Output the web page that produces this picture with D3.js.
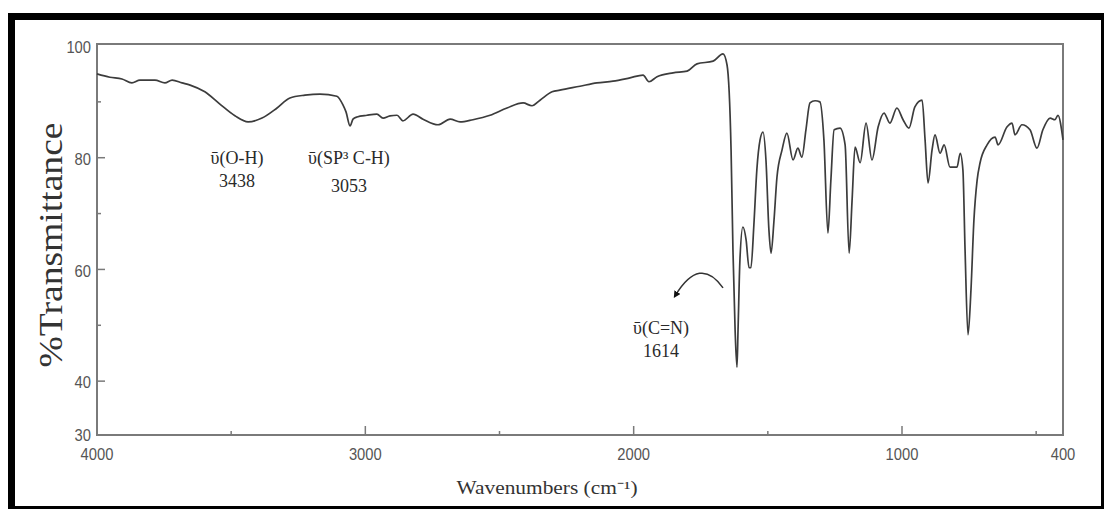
<!DOCTYPE html>
<html>
<head>
<meta charset="utf-8">
<script src="https://cdn.jsdelivr.net/npm/d3@7"></script>
<style>
  body { margin: 0; background: #fff; }
  svg { display: block; }
</style>
</head>
<body>
<svg width="1104" height="509"></svg>
<script>
// IR spectrum
var wavenumbers = [4000,3952,3907,3870,3840,3784,3747,3720,3683,3653,3598,3542,3486,3437,3385,3329,3281,3225,3169,3106,
  3083,3072,3057,3046,3031,2994,2957,2934,2908,2882,2860,2822,2785,2729,2684,2647,2599,2535,2472,2412,
  2379,2349,2304,2275,2200,2137,2077,2014,1965,1943,1913,1853,1801,1764,1704,1667,1652,1637,1630,1622,
  1615,1611,1604,1593,1581,1570,1563,1552,1541,1529,1518,1507,1496,1488,1477,1466,1447,1429,1406,1388,
  1373,1358,1343,1324,1306,1291,1276,1265,1253,1231,1212,1197,1186,1175,1156,1134,1112,1089,1067,1045,
  1019,996,974,952,925,914,903,888,877,858,843,821,795,783,773,765,754,743,732,720,
  709,683,653,642,609,590,579,553,523,497,475,448,430,419,400];
var transmittance = [95.0,94.4,94.1,93.4,93.9,93.9,93.4,93.9,93.4,93.0,91.8,89.6,87.5,86.4,87.1,88.9,90.7,91.2,91.4,91.0,
  89.4,88.2,85.7,86.9,87.3,87.6,87.8,87.1,87.5,87.6,86.6,87.8,86.9,85.9,86.9,86.4,86.8,87.6,88.9,89.8,
  89.3,90.3,91.8,92.1,92.8,93.4,93.7,94.3,94.8,93.6,94.5,95.2,95.5,96.8,97.3,98.6,96.6,81.4,63.5,49.2,
  42.5,49.2,61.7,67.6,65.3,60.3,60.3,68.0,77.8,83.2,84.6,79.6,67.1,62.9,68.8,76.5,81.4,84.4,79.6,81.7,
  80.1,85.0,89.8,90.2,90.0,83.2,66.5,76.0,85.0,85.3,82.3,62.9,72.4,81.9,79.1,86.2,79.6,85.5,88.0,86.2,
  88.9,86.8,85.3,89.1,90.3,83.2,75.5,81.4,84.1,80.8,82.3,78.3,78.3,80.8,77.8,63.5,48.3,56.3,68.8,76.0,
  79.1,82.3,83.7,82.3,85.5,86.2,84.1,85.9,85.0,81.7,85.0,87.1,86.8,87.6,83.2];

var xTickValues = [4000, 3000, 2000, 1000, 400];
var xMajorMarks = [3000, 2000, 1000];
var xMinorMarks = [3500, 2500, 1500, 500];
var yTickValues = [100, 80, 60, 40, 30];
var yMajorMarks = [80, 60, 40];
var yMinorMarks = [90, 70, 50];

var annotations = [
  { lines: ['ῡ(O-H)', '3438'], wn: 3478, t: [79.6, 75.5] },
  { lines: ['ῡ(SP³ C-H)', '3053'], wn: 3061, t: [79.6, 74.6] },
  { lines: ['ῡ(C=N)', '1614'], wn: 1898, t: [49.2, 45.0] }
];

var data = wavenumbers.map(function(w, i){ return { wn: w, t: transmittance[i] }; });

var svg = d3.select('svg');
var W = 1104, H = 509;
var plotLeft = 97, plotRight = 1063, plotTop = 44, plotBottom = 435;

// outer black frame (thick top/left, thin right/bottom)
svg.append('rect').attr('x', 8).attr('y', 13).attr('width', W - 8).attr('height', H - 13).attr('fill', '#000');
svg.append('rect').attr('x', 15).attr('y', 20).attr('width', W - 3 - 15).attr('height', H - 3 - 20).attr('fill', '#fff');

var xScale = d3.scaleLinear().domain([4000, 400]).range([plotLeft, plotRight]);
var yScale = d3.scaleLinear().domain([30, 100]).range([plotBottom + 2, plotTop + 2]);

var axisColor = '#7a7a7a';
var tickFont = '"Liberation Sans", Arial, sans-serif';
var serif = '"Liberation Serif", "Times New Roman", serif';

// plot box
svg.append('rect')
  .attr('x', plotLeft).attr('y', plotTop)
  .attr('width', plotRight - plotLeft).attr('height', plotBottom - plotTop)
  .attr('fill', 'none').attr('stroke', axisColor).attr('stroke-width', 2);

// x tick marks (pointing into the plot)
var xMarks = svg.append('g').attr('class', 'x-marks');
xMarks.selectAll('line.major').data(xMajorMarks).enter().append('line')
  .attr('x1', function(d){ return xScale(d); }).attr('x2', function(d){ return xScale(d); })
  .attr('y1', plotBottom).attr('y2', plotBottom - 9)
  .attr('stroke', axisColor).attr('stroke-width', 1.5);
xMarks.selectAll('line.minor').data(xMinorMarks).enter().append('line')
  .attr('x1', function(d){ return xScale(d); }).attr('x2', function(d){ return xScale(d); })
  .attr('y1', plotBottom).attr('y2', plotBottom - 4)
  .attr('stroke', axisColor).attr('stroke-width', 1.5);

// y tick marks
var yMarks = svg.append('g').attr('class', 'y-marks');
yMarks.selectAll('line.major').data(yMajorMarks).enter().append('line')
  .attr('y1', function(d){ return yScale(d); }).attr('y2', function(d){ return yScale(d); })
  .attr('x1', plotLeft).attr('x2', plotLeft + 8)
  .attr('stroke', axisColor).attr('stroke-width', 1.5);
yMarks.selectAll('line.minor').data(yMinorMarks).enter().append('line')
  .attr('y1', function(d){ return yScale(d); }).attr('y2', function(d){ return yScale(d); })
  .attr('x1', plotLeft).attr('x2', plotLeft + 4)
  .attr('stroke', axisColor).attr('stroke-width', 1.5);

// tick labels (narrow digits, squeezed with textLength)
svg.append('g').selectAll('text').data(xTickValues).enter().append('text')
  .attr('x', function(d){ return xScale(d); })
  .attr('y', plotBottom + 21)
  .attr('text-anchor', 'middle')
  .attr('dominant-baseline', 'middle')
  .attr('font-family', tickFont).attr('font-size', 16)
  .attr('textLength', function(d){ return String(d).length * 8.2; })
  .attr('lengthAdjust', 'spacingAndGlyphs')
  .attr('fill', '#555')
  .text(function(d){ return d; });

svg.append('g').selectAll('text').data(yTickValues).enter().append('text')
  .attr('x', plotLeft - 6)
  .attr('y', function(d){ return yScale(d) + (d === 30 ? 0 : 3); })
  .attr('text-anchor', 'end')
  .attr('dominant-baseline', 'middle')
  .attr('font-family', tickFont).attr('font-size', 16)
  .attr('textLength', function(d){ return String(d).length * 8.2; })
  .attr('lengthAdjust', 'spacingAndGlyphs')
  .attr('fill', '#555')
  .text(function(d){ return d; });

// spectrum line
var line = d3.line()
  .x(function(d){ return xScale(d.wn); })
  .y(function(d){ return yScale(d.t); })
  .curve(d3.curveMonotoneX);

svg.append('path')
  .datum(data)
  .attr('d', line)
  .attr('fill', 'none')
  .attr('stroke', '#3c3c3c')
  .attr('stroke-width', 1.7)
  .attr('stroke-linejoin', 'round');

// axis titles
svg.append('text')
  .attr('transform', 'translate(62,245) rotate(-90)')
  .attr('text-anchor', 'middle')
  .attr('font-family', serif).attr('font-size', 34)
  .attr('textLength', 245).attr('lengthAdjust', 'spacingAndGlyphs')
  .attr('fill', '#333')
  .text('%Transmittance');

svg.append('text')
  .attr('x', 547)
  .attr('y', 494)
  .attr('text-anchor', 'middle')
  .attr('font-family', serif).attr('font-size', 18)
  .attr('textLength', 181).attr('lengthAdjust', 'spacingAndGlyphs')
  .attr('fill', '#333')
  .text('Wavenumbers (cm⁻¹)');

// band annotations
annotations.forEach(function(a){
  a.lines.forEach(function(txt, i){
    svg.append('text')
      .attr('x', xScale(a.wn))
      .attr('y', yScale(a.t[i]))
      .attr('text-anchor', 'middle')
      .attr('dominant-baseline', 'middle')
      .attr('font-family', serif).attr('font-size', 18)
      .attr('fill', '#2a2a2a')
      .text(txt);
  });
});

// curved arrow pointing at the C=N label
svg.append('defs').append('marker')
  .attr('id', 'head')
  .attr('viewBox', '0 0 10 10')
  .attr('refX', 6).attr('refY', 5)
  .attr('markerWidth', 7).attr('markerHeight', 7)
  .attr('markerUnits', 'userSpaceOnUse')
  .attr('orient', 'auto')
  .append('path').attr('d', 'M0,0 L10,5 L0,10 Z').attr('fill', '#111');

var arrowPts = [[1667, 56.7], [1753, 62.6], [1845, 55.3]];
var p = arrowPts.map(function(d){ return [xScale(d[0]), yScale(d[1])]; });
svg.append('path')
  .attr('d', 'M' + p[0] + ' Q' + p[1] + ' ' + p[2])
  .attr('fill', 'none')
  .attr('stroke', '#333')
  .attr('stroke-width', 1.5)
  .attr('marker-end', 'url(#head)');
</script>
</body>
</html>
